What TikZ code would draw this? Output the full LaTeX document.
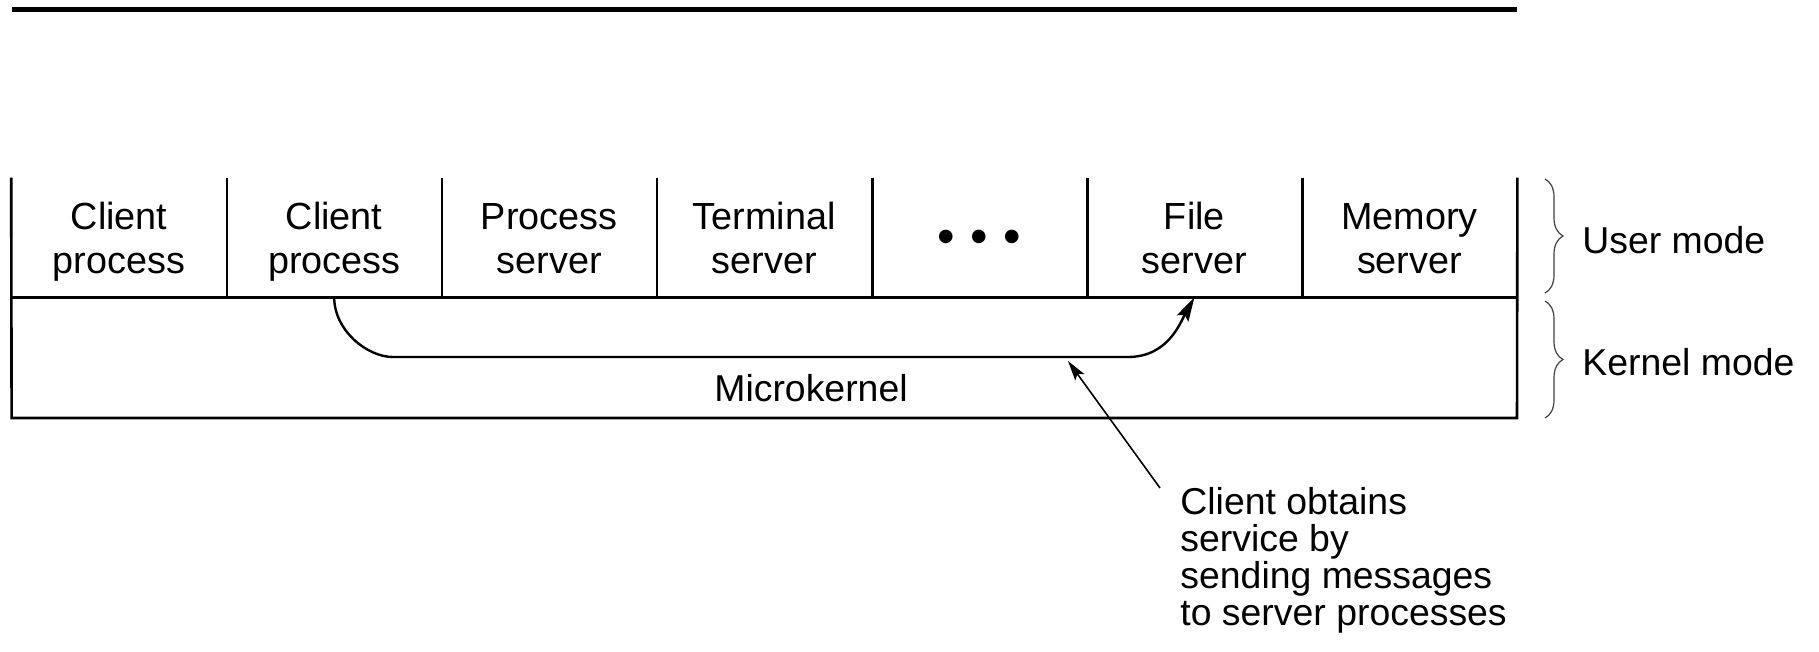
\documentclass[tikz,border=0pt]{standalone}
\usepackage{fontspec}
\setmainfont{Liberation Sans}
\usetikzlibrary{arrows.meta,decorations.pathreplacing}

% struts that give every two-line column label the same baselines
\newcommand{\topstrut}{\rule{0pt}{18pt}}
\newcommand{\botstrut}{\rule[-4pt]{0pt}{4pt}}

\begin{document}
\begin{tikzpicture}[x=0.5pt,y=-0.5pt,
  every node/.style={font=\fontsize{18.7pt}{18.5pt}\selectfont, inner sep=0pt},
  col/.style={minimum width=107.5pt, minimum height=59.5pt, align=center,
    font=\fontsize{18.9pt}{22pt}\selectfont},
  frame/.style={line width=1.3pt},
  flow/.style={line width=1.2pt, -{Stealth[length=12pt,width=6.5pt,inset=2pt]}},
  pointer/.style={line width=0.8pt, -{Stealth[length=10pt,width=5.5pt,inset=2pt]}},
  modebrace/.style={line width=0.6pt, draw=black!75, decorate, decoration={brace,amplitude=9pt}},
  modelabel/.style={anchor=west}]
\useasboundingbox (0,0) rectangle (1819,652);

% heading rule
\draw[line width=2.5pt] (11.6,10) -- (1517,10);

% user-mode processes
\node[col] (c1) at (119.1,237.5) {\topstrut Client\\process\botstrut};
\node[col] (c2) at (334.2,237.5) {\topstrut Client\\process\botstrut};
\node[col] (c3) at (549.2,237.5) {\topstrut Process\\server\botstrut};
\node[col] (c4) at (764.3,237.5) {\topstrut Terminal\\server\botstrut};
\node[col] (c5) at (979.4,237.5)
  {\raisebox{0pt}[\dimexpr\height+4pt\relax][\depth]{\fontsize{25pt}{25pt}\selectfont\textbullet\hskip 7.6pt\textbullet\hskip 7.6pt\textbullet}};
\node[col] (c6) at (1194.4,237.5) {\topstrut File\\server\botstrut};
\node[col] (c7) at (1409.5,237.5) {\topstrut Memory\\server\botstrut};

% outer frame, mode boundary and column dividers
\draw[frame] (c1.north west) -- (11.6,418) -- (1517,418) -- (c7.north east);
\draw[frame] (c1.south west) -- (c7.south east);
\foreach \n in {c1,c2,c3,c4,c5,c6}
  \draw[frame] (\n.north east) -- (\n.south east);

% kernel
\node (mk) at (811,388) {Microkernel};

% message path from client to file server
\draw[flow] (c2.south) .. controls +(0,33) and +(-26,0) .. (393,357)
  -- (1128,357) .. controls +(40,0) and +(-14,25) .. (c6.south);

% annotation
\node[anchor=north west, align=left] (note) at (1180,487)
  {Client obtains\\service by\\sending messages\\to server processes};
\coordinate (ps) at (1160,488);
\coordinate (pe) at (1068,361);
\draw[pointer] (ps) -- (pe);

% mode braces
\draw[modebrace] (1545,179) -- (1545,293);
\node[modelabel] (um) at (1582,240) {User mode};
\draw[modebrace] (1545,301) -- (1545,418);
\node[modelabel] (km) at (1582,362) {Kernel mode};
\end{tikzpicture}
\end{document}
